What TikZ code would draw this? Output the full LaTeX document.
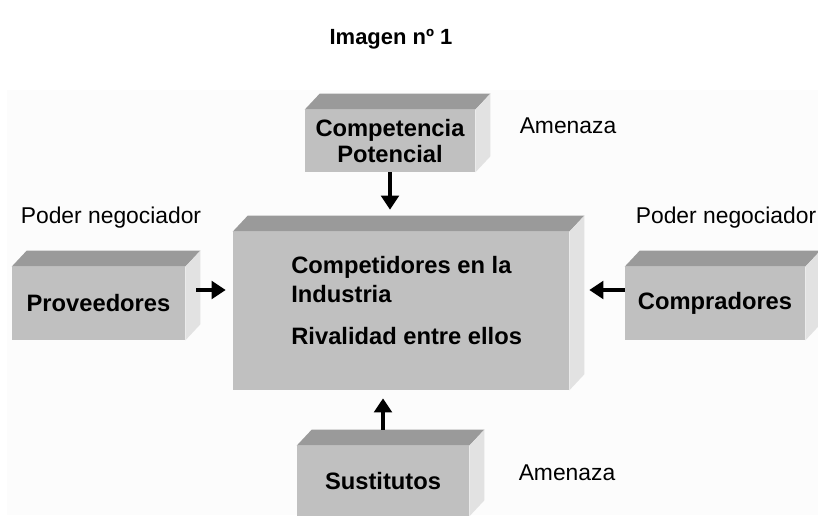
\documentclass[tikz,border=0pt]{standalone}
\usepackage{fontspec}
\setmainfont{Liberation Sans}
\usepackage{tikz}
\usetikzlibrary{arrows.meta}
\definecolor{hexcolor0xc0c0c0}{rgb}{0.753,0.753,0.753}
\definecolor{hexcolor0x9a9a9a}{rgb}{0.604,0.604,0.604}
\definecolor{hexcolor0xe2e2e2}{rgb}{0.886,0.886,0.886}
\definecolor{hexcolor0xfcfcfc}{rgb}{0.988,0.988,0.988}
\definecolor{myblack}{rgb}{0.000,0.000,0.000}
\tikzstyle{caja}=[rectangle,fill=hexcolor0xc0c0c0,inner sep=0pt,align=center,text=myblack,font=\fontsize{13.5}{14.5}\selectfont\bfseries]
\tikzstyle{cajatexto}=[inner sep=0pt,align=left,text=myblack,font=\fontsize{13.5}{17}\selectfont\bfseries]
\tikzstyle{techo}=[fill=hexcolor0x9a9a9a]
\tikzstyle{lado}=[fill=hexcolor0xe2e2e2]
\tikzstyle{texto}=[text=myblack,font=\fontsize{13}{15}\selectfont]
\tikzstyle{titulo}=[text=myblack,font=\fontsize{12.5}{14}\selectfont\bfseries]
\tikzstyle{flecha}=[draw=myblack,line width=2.8pt,-{Triangle[length=8pt,width=10pt]}]

\begin{document}
\begin{tikzpicture}[x=0.02cm,y=-0.02cm]
	\useasboundingbox (0,0) rectangle (818,515);
	\clip (0,0) rectangle (818,515);
	\fill[fill=hexcolor0xfcfcfc] (7,90) rectangle (818,515);

		\node [style=titulo] (t) at (391,39) {Imagen nº 1};
		\node [style=caja, minimum width=3.4cm, minimum height=1.24cm] (0) at (390,141) {Competencia\\Potencial};
		\node [style=caja, minimum width=6.72cm, minimum height=3.16cm] (1) at (401,311) {};
		\node [style=caja, minimum width=3.46cm, minimum height=1.46cm] (2) at (98.5,303.5) {Proveedores};
		\node [style=caja, minimum width=3.6cm, minimum height=1.46cm] (3) at (715,303.5) {Compradores};
		\node [style=caja, minimum width=3.44cm, minimum height=1.4cm] (4) at (383,481) {Sustitutos};
		\node [style=cajatexto, anchor=north west] (5) at (291,255.5) {Competidores en la\\Industria\\[6.8pt]Rivalidad entre ellos};
		\node [style=texto] (6) at (568,126) {Amenaza};
		\node [style=texto] (7) at (567,473) {Amenaza};
		\node [style=texto] (8) at (111,218) {Poder negociador};
		\node [style=texto] (9) at (726,218) {Poder negociador};

	% caras de arriba y de lado
	\fill [style=techo] (0.north west) -- ++(15,-16) -- ([shift={(15,-16)}]0.north east) -- (0.north east) -- cycle;
	\fill [style=lado] (0.north east) -- ++(15,-16) -- ([shift={(15,-16)}]0.south east) -- (0.south east) -- cycle;
	\fill [style=techo] (1.north west) -- ++(15,-16) -- ([shift={(15,-16)}]1.north east) -- (1.north east) -- cycle;
	\fill [style=lado] (1.north east) -- ++(15,-16) -- ([shift={(15,-16)}]1.south east) -- (1.south east) -- cycle;
	\fill [style=techo] (2.north west) -- ++(15,-16) -- ([shift={(15,-16)}]2.north east) -- (2.north east) -- cycle;
	\fill [style=lado] (2.north east) -- ++(15,-16) -- ([shift={(15,-16)}]2.south east) -- (2.south east) -- cycle;
	\fill [style=techo] (3.north west) -- ++(15,-16) -- ([shift={(15,-16)}]3.north east) -- (3.north east) -- cycle;
	\fill [style=lado] (3.north east) -- ++(15,-16) -- ([shift={(15,-16)}]3.south east) -- (3.south east) -- cycle;
	\fill [style=techo] (4.north west) -- ++(15,-16) -- ([shift={(15,-16)}]4.north east) -- (4.north east) -- cycle;
	\fill [style=lado] (4.north east) -- ++(15,-16) -- ([shift={(15,-16)}]4.south east) -- (4.south east) -- cycle;

	% flechas
		\draw [style=flecha, shorten >=0.44cm] (0.south) to (0.south |- 1.north);
		\draw [style=flecha, shorten <=0.22cm, shorten >=0.14cm] ([yshift=0.27cm]2.east) to ([yshift=0.27cm]2.east -| 1.west);
		\draw [style=flecha, shorten >=0.4cm] ([yshift=0.27cm]3.west) to ([yshift=0.27cm]3.west -| 1.east);
		\draw [style=flecha, shorten <=0.32cm, shorten >=0.16cm] (4.north) to (4.north |- 1.south);
\end{tikzpicture}
\end{document}
